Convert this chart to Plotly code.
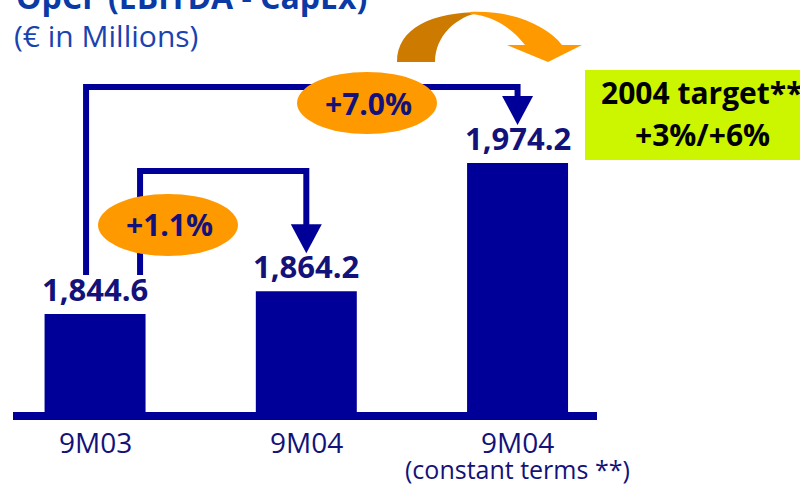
import plotly.graph_objects as go

# ---- data ----
categories = ["9M03", "9M04", "9M04"]
category_notes = ["", "", "(constant terms **)"]
values = [1844.6, 1864.2, 1974.2]
growth_labels = ["+1.1%", "+7.0%"]
target_lines = ["2004 target**", "+3%/+6%"]
title_text = "OpCF (EBITDA - CapEx)"
subtitle_text = "(€ in Millions)"

# ---- layout constants ----
W, H = 800, 484
X_RANGE = [-0.45, 3.337]
Y_RANGE = [1698.7, 2114.1]
AXIS_BASE = 1760.5
BAR_W = 0.478

NAVY = "#000099"
LABEL = "#12127a"
ORANGE = "#FF9900"
DARK_ORANGE = "#CC7A00"
LIME = "#CCF500"
TITLE_BLUE = "#0a3aa6"
FONT = "Open Sans"


def xpx(xv):
    return (xv - X_RANGE[0]) / (X_RANGE[1] - X_RANGE[0]) * W


def ypx(v):
    return (Y_RANGE[1] - v) / (Y_RANGE[1] - Y_RANGE[0]) * H


def px(x):
    return x / W


def py(y):
    return 1 - y / H


def path(points, close=False):
    s = "M " + " L ".join(f"{px(x):.5f},{py(y):.5f}" for x, y in points)
    return s + (" Z" if close else "")


def cpath(cmds):
    out = []
    for c in cmds:
        op, pts = c[0], c[1:]
        out.append(op + " " + " ".join(f"{px(x):.5f},{py(y):.5f}" for x, y in pts))
    return " ".join(out) + " Z"


xs = list(range(len(values)))
fig = go.Figure()
fig.add_trace(go.Bar(
    x=xs, y=[v - AXIS_BASE for v in values], base=AXIS_BASE, width=BAR_W,
    marker=dict(color=NAVY, line=dict(width=0)), hoverinfo="skip",
    showlegend=False,
))

shapes = []
annotations = []

# axis line
shapes.append(dict(type="rect", xref="paper", yref="paper",
                   x0=px(13), x1=px(597), y0=py(412), y1=py(420),
                   fillcolor=NAVY, line=dict(width=0), layer="above"))

bar_cx = [xpx(i) for i in xs]
bar_top = [ypx(v) for v in values]
label_top = [t - 32 for t in bar_top]


def elbow_arrow(x_start, y_start, y_level, x_end, tip_y):
    base_y = tip_y - 29
    shapes.append(dict(type="path", xref="paper", yref="paper",
                       path=path([(x_start, y_start), (x_start, y_level),
                                  (x_end, y_level), (x_end, base_y + 1)]),
                       line=dict(color=NAVY, width=6), layer="above"))
    shapes.append(dict(type="path", xref="paper", yref="paper",
                       path=path([(x_end - 15.5, base_y), (x_end + 15.5, base_y),
                                  (x_end, tip_y)], close=True),
                       fillcolor=NAVY, line=dict(width=0), layer="above"))


# +7.0% arrow: from bar 1 label to bar 3 label
elbow_arrow(bar_cx[0] - 9, label_top[0] - 7, 87, bar_cx[2], label_top[2] - 6)
# +1.1% arrow: from bar 1 label to bar 2 label
elbow_arrow(bar_cx[0] + 45, label_top[0] - 7, 171, bar_cx[1], label_top[1] - 6)

# growth ellipses
for (cx, cy), txt in zip([(168, 225), (367, 103)], growth_labels):
    shapes.append(dict(type="circle", xref="paper", yref="paper",
                       x0=px(cx - 70), x1=px(cx + 70), y0=py(cy + 31), y1=py(cy - 31),
                       fillcolor=ORANGE, line=dict(width=0), layer="above"))
    annotations.append(dict(xref="paper", yref="paper", x=px(cx + 1), y=py(cy),
                            text=txt, showarrow=False, xanchor="center", yanchor="middle",
                            font=dict(family=FONT, size=30, color=LABEL, weight="bold")))

# curved orange arrow
shapes.append(dict(type="path", xref="paper", yref="paper",
                   path=cpath([("M", (397, 62)), ("C", (397, 28), (432, 12), (482, 12)),
                               ("C", (456, 16), (435, 36), (435, 62))]),
                   fillcolor=DARK_ORANGE, line=dict(width=0), layer="above"))
shapes.append(dict(type="path", xref="paper", yref="paper",
                   path=cpath([("M", (470, 12)), ("C", (515, 10), (548, 27), (562, 45)),
                               ("L", (582, 45)), ("L", (548, 62)), ("L", (507, 45)),
                               ("L", (525, 45)), ("C", (512, 28), (492, 15), (470, 14))]),
                   fillcolor=ORANGE, line=dict(width=0), layer="above"))

# target box
shapes.append(dict(type="rect", xref="paper", yref="paper",
                   x0=px(585), x1=px(800), y0=py(160), y1=py(70),
                   fillcolor=LIME, line=dict(width=0), layer="above"))
for txt, cy in zip(target_lines, [92.5, 134.5]):
    annotations.append(dict(xref="paper", yref="paper", x=px(702), y=py(cy),
                            text=txt, showarrow=False, xanchor="center", yanchor="middle",
                            font=dict(family=FONT, size=30, color="#000000", weight="bold")))

# value labels
for i, v in zip(xs, values):
    annotations.append(dict(xref="x", yref="y", x=i, y=v, text=f"{v:,.1f}",
                            showarrow=False, xanchor="center", yanchor="bottom", yshift=2,
                            font=dict(family=FONT, size=31, color=LABEL, weight="bold")))

# category labels
for i, (c, n) in enumerate(zip(categories, category_notes)):
    annotations.append(dict(xref="x", yref="paper", x=i, y=py(442), text=c,
                            showarrow=False, xanchor="center", yanchor="middle",
                            font=dict(family=FONT, size=28, color=LABEL)))
    if n:
        annotations.append(dict(xref="x", yref="paper", x=i, y=py(469), text=n,
                                showarrow=False, xanchor="center", yanchor="middle",
                                font=dict(family=FONT, size=25, color=LABEL)))

# title / subtitle
annotations.append(dict(xref="paper", yref="paper", x=px(14), y=py(-3.5), text=title_text,
                        showarrow=False, xanchor="left", yanchor="middle",
                        font=dict(family=FONT, size=32, color=TITLE_BLUE, weight="bold")))
annotations.append(dict(xref="paper", yref="paper", x=px(12), y=py(36), text=subtitle_text,
                        showarrow=False, xanchor="left", yanchor="middle",
                        font=dict(family=FONT, size=30, color="#1a43b0")))

fig.update_layout(
    width=W, height=H, margin=dict(l=0, r=0, t=0, b=0, pad=0),
    paper_bgcolor="white", plot_bgcolor="white",
    xaxis=dict(range=X_RANGE, visible=False, fixedrange=True),
    yaxis=dict(range=Y_RANGE, visible=False, fixedrange=True),
    shapes=shapes, annotations=annotations, showlegend=False,
)

fig.write_html("out.html", config={"displayModeBar": False})
